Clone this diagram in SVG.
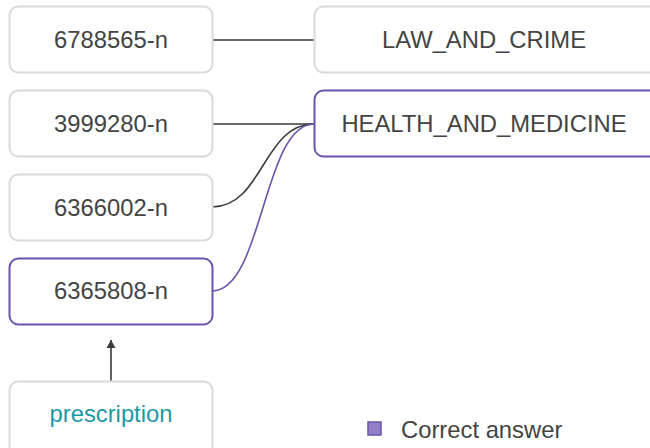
<svg xmlns="http://www.w3.org/2000/svg" width="650" height="448" viewBox="0 0 650 448">
<style>
.box{fill:#fff;stroke:#dadada;stroke-width:2}
.sel{fill:#fff;stroke:#6b52ad;stroke-width:2}
.t{font-family:"Liberation Sans",Arial,sans-serif;font-size:23.8px;fill:#444;text-anchor:middle;dominant-baseline:central}
.q{fill:#1a9aa6}
.e{fill:none;stroke:#3a3a3a;stroke-width:1.6}
.ep{fill:none;stroke:#6b52ad;stroke-width:1.6}
</style>
<defs>
<marker id="ah2" viewBox="0 0 8 12" refX="8" refY="6" markerWidth="8" markerHeight="12" markerUnits="userSpaceOnUse" orient="auto"><path d="M0,1.5L8,6L0,10.5z" fill="#3a3a3a"/></marker>
</defs>
<g id="connectors">
<path class="e" d="M212,40H314"/>
<path class="e" d="M212,124H314"/>
<path class="e" d="M212,207C263,207 263,124 314,124"/>
<path class="ep" d="M212,291C263,291 263,124 314,124"/>
<path class="e" d="M111,381V340" marker-end="url(#ah2)"/>
</g>
<g id="n6788565"><rect class="box" x="9.5" y="6.5" width="203" height="66" rx="9"/><text class="t" x="111" y="39">6788565-n</text></g>
<g id="n3999280"><rect class="box" x="9.5" y="90.5" width="203" height="66" rx="9"/><text class="t" x="111" y="123">3999280-n</text></g>
<g id="n6366002"><rect class="box" x="9.5" y="174.5" width="203" height="66" rx="9"/><text class="t" x="111" y="207">6366002-n</text></g>
<g id="n6365808"><rect class="sel" x="9.5" y="258.5" width="203" height="66" rx="9"/><text class="t" x="111" y="290">6365808-n</text></g>
<g id="prescription"><rect class="box" x="9.5" y="381.5" width="203" height="80" rx="9"/><text class="t q" x="111" y="413">prescription</text></g>
<g id="law"><rect class="box" x="314.5" y="6.5" width="350" height="66" rx="9"/><text class="t" x="484" y="39">LAW_AND_CRIME</text></g>
<g id="health"><rect class="sel" x="314.5" y="90.5" width="350" height="66" rx="9"/><text class="t" x="484" y="123">HEALTH_AND_MEDICINE</text></g>
<g id="legend"><rect x="368" y="422" width="13" height="13" fill="#9580c8" stroke="#6b52ad" stroke-width="1.5"/><text class="t" x="401" y="429" style="text-anchor:start">Correct answer</text></g>
</svg>
